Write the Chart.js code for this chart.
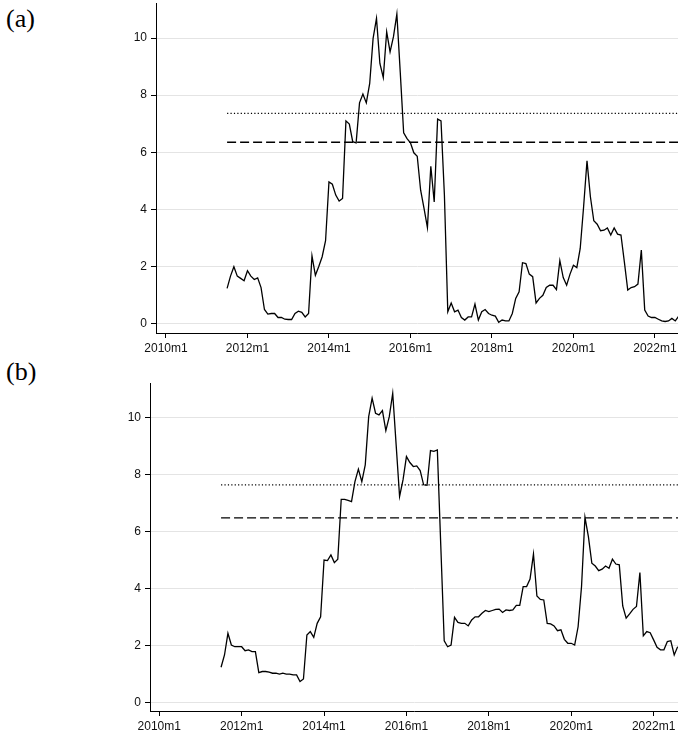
<!DOCTYPE html>
<html><head><meta charset="utf-8">
<script src="https://cdn.jsdelivr.net/npm/chart.js@4"></script>
<style>
body{margin:0;background:#fff;width:678px;height:734px;overflow:hidden;position:relative}
.lbl{position:absolute;font-family:"Liberation Serif","Times New Roman",serif;font-size:26px;color:#000;line-height:1}
canvas{position:absolute;left:0}
</style></head><body>
<div class="lbl" style="left:6px;top:6px">(a)</div>
<div class="lbl" style="left:6px;top:359px">(b)</div>
<canvas id="ca" width="678" height="360" style="top:0"></canvas>
<canvas id="cb" width="678" height="367" style="top:367px"></canvas>
<script>
// months counted from 2010m1 (=0); both series start in 2011m7
const seriesStartMonth = 18;
const xTickLabels = ['2010m1','2012m1','2014m1','2016m1','2018m1','2020m1','2022m1'];
const yTickValues = [0,2,4,6,8,10];

const seriesA = [1.23,1.66,1.99,1.66,1.58,1.50,1.85,1.66,1.54,1.60,1.26,0.49,0.33,0.35,0.35,0.21,0.21,0.15,0.14,0.14,
0.35,0.43,0.39,0.23,0.35,2.37,1.69,2.00,2.34,2.90,4.96,4.88,4.50,4.29,4.38,7.10,6.99,6.37,6.33,7.73,
8.04,7.73,8.41,9.99,10.69,9.11,8.62,10.22,9.52,10.05,10.84,8.80,6.68,6.48,6.33,5.98,5.86,4.67,4.03,3.36,
5.51,4.26,7.16,7.10,4.50,0.41,0.72,0.41,0.47,0.21,0.12,0.23,0.23,0.68,0.12,0.41,0.49,0.35,0.29,0.26,
0.04,0.12,0.09,0.09,0.35,0.88,1.11,2.13,2.10,1.73,1.64,0.72,0.88,0.99,1.26,1.34,1.34,1.19,2.20,1.61,
1.34,1.73,2.04,1.96,2.63,4.09,5.70,4.44,3.60,3.48,3.25,3.27,3.35,3.10,3.35,3.13,3.10,2.16,1.17,1.26,
1.29,1.38,2.57,0.47,0.26,0.21,0.21,0.15,0.09,0.07,0.09,0.18,0.09,0.26];
const dottedA = 7.36;
const dashedA = 6.35;

const seriesB = [1.23,1.66,2.42,2.01,1.95,1.95,1.95,1.81,1.84,1.78,1.78,1.04,1.08,1.08,1.06,1.02,1.02,0.99,1.02,0.99,
0.99,0.96,0.96,0.73,0.82,2.36,2.48,2.28,2.77,3.00,4.99,4.97,5.17,4.90,5.02,7.12,7.12,7.08,7.04,7.74,
8.18,7.74,8.33,10.02,10.67,10.14,10.08,10.23,9.53,10.02,10.84,9.03,7.22,7.80,8.62,8.41,8.27,8.29,8.13,7.63,
7.61,8.83,8.80,8.85,5.50,2.16,1.95,2.01,2.98,2.80,2.77,2.77,2.68,2.89,3.00,3.00,3.12,3.22,3.18,3.22,
3.26,3.27,3.15,3.24,3.22,3.24,3.40,3.40,4.06,4.06,4.32,5.20,3.73,3.61,3.59,2.77,2.75,2.68,2.51,2.54,
2.21,2.07,2.07,2.01,2.65,4.06,6.49,5.81,4.88,4.78,4.62,4.67,4.78,4.70,5.02,4.85,4.82,3.38,2.95,3.10,
3.26,3.36,4.55,2.33,2.48,2.44,2.19,1.93,1.84,1.84,2.13,2.16,1.66,1.95];
const dottedB = 7.63;
const dashedB = 6.47;

function makePanel(canvasId, series, dotted, dashed, L) {
  const pts = series.map((v,i)=>({x: seriesStartMonth + i, y: v}));
  const hline = v => [{x: seriesStartMonth, y: v}, {x: L.xMax + 5, y: v}];
  const font = {family: '"Liberation Sans", Arial, sans-serif', size: 12};
  return new Chart(document.getElementById(canvasId), {
    type: 'line',
    data: {datasets: [
      {data: pts, borderColor:'#000', borderWidth:1.3, pointRadius:0, tension:0},
      {data: hline(dotted), borderColor:'#000', borderWidth:1.2, borderDash:[1.2,2.2], pointRadius:0},
      {data: hline(dashed), borderColor:'#000', borderWidth:1.3, borderDash:[9,4], pointRadius:0}
    ]},
    options: {
      responsive:false, devicePixelRatio:1, animation:false,
      layout:{padding:{top:L.top, right:0, left:0, bottom:0}},
      plugins:{legend:{display:false}, tooltip:{enabled:false}},
      scales:{
        x:{type:'linear', min:L.xMin, max:L.xMax,
          afterBuildTicks: s => { s.ticks = xTickLabels.map((t,i)=>({value:i*24})); },
          afterFit: s => { s.height = L.xh; s.paddingLeft = 0; s.paddingRight = 0; },
          ticks:{autoSkip:false, maxRotation:0, padding:3, color:'#111', font,
            callback: v => xTickLabels[Math.round(v/24)]},
          grid:{drawOnChartArea:false, drawTicks:true, tickLength:5, tickColor:'#000', tickWidth:1},
          border:{display:true, color:'#000', width:1}},
        y:{type:'linear', min:L.yMin, max:L.yMax,
          afterBuildTicks: s => { s.ticks = yTickValues.map(v=>({value:v})); },
          afterFit: s => { s.width = L.yw; s.paddingTop = 0; s.paddingBottom = 0; },
          ticks:{padding:4, color:'#111', font},
          grid:{color:'#e4e4e4', lineWidth:1, drawTicks:true, tickLength:5, tickColor:'#000', tickWidth:1},
          border:{display:true, color:'#000', width:1}}
      }
    }
  });
}

makePanel('ca', seriesA, dottedA, dashedA,
  {top:3, xh:27, yw:156, yMin:-0.333, yMax:11.23, xMin:-2.94, xMax:150.8});
makePanel('cb', seriesB, dottedB, dashedB,
  {top:16, xh:23, yw:150, yMin:-0.305, yMax:11.2, xMin:-2.7, xMax:151.1});
</script>
</body></html>
